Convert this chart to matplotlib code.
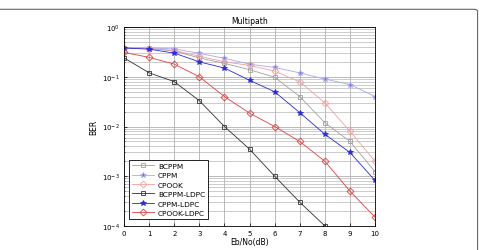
import matplotlib
matplotlib.use("Agg")
import matplotlib.pyplot as plt
from matplotlib.patches import FancyBboxPatch
from matplotlib.ticker import LogLocator, NullFormatter
import numpy as np

ebno = [0, 1, 2, 3, 4, 5, 6, 7, 8, 9, 10]

bcppm = [0.38, 0.375, 0.33, 0.24, 0.186, 0.139, 0.098, 0.04, 0.0119, 0.005, 0.00123]
cppm = [0.38, 0.38, 0.365, 0.297, 0.235, 0.18, 0.154, 0.12, 0.09, 0.07, 0.04]
cpook = [0.38, 0.37, 0.34, 0.26, 0.2, 0.17, 0.13, 0.079, 0.03, 0.008, 0.002]
bcppm_ldpc = [0.24, 0.12, 0.08, 0.033, 0.01, 0.0035, 0.001, 0.0003, 0.0001]
cppm_ldpc = [0.38, 0.36, 0.3, 0.2, 0.15, 0.085, 0.05, 0.019, 0.007, 0.003, 0.00082]
cpook_ldpc = [0.31, 0.246, 0.18, 0.1, 0.04, 0.0186, 0.01, 0.005, 0.002, 0.0005, 0.00015]

series = [
    ("BCPPM", bcppm, "#a0a0a0", "s", "none"),
    ("CPPM", cppm, "#a8a8f0", "*", "#6a6af0"),
    ("CPOOK", cpook, "#f0a0a0", "D", "none"),
    ("BCPPM-LDPC", bcppm_ldpc, "#303030", "s", "none"),
    ("CPPM-LDPC", cppm_ldpc, "#2a2ae0", "*", "#2a2ae0"),
    ("CPOOK-LDPC", cpook_ldpc, "#e04040", "D", "none"),
]

fig = plt.figure(figsize=(4.79, 2.51), dpi=100)
# outer frame of the source page: only top and right edges visible
frame = FancyBboxPatch((-0.05, -0.1), 1.047, 1.059, boxstyle="round,pad=0,rounding_size=0.008",
                       transform=fig.transFigure, fill=False, edgecolor="#666666", lw=0.8)
fig.patches.append(frame)

ax = fig.add_axes([0.259, 0.096, 0.524, 0.792])
for name, vals, color, marker, face in series:
    ms = 3.8 if marker == "*" else 3.5
    ax.semilogy(ebno[:len(vals)], vals, color=color, lw=0.6, marker=marker,
                markersize=ms, markerfacecolor=face, markeredgecolor=color,
                markeredgewidth=0.6, label=name)

ax.set_xlim(0, 10)
ax.set_ylim(1e-4, 1)
ax.set_xticks(range(11))
ax.yaxis.set_major_locator(LogLocator(base=10, numticks=10))
ax.yaxis.set_minor_locator(LogLocator(base=10, subs=np.arange(2, 10), numticks=10))
ax.yaxis.set_minor_formatter(NullFormatter())
ax.grid(True, which="major", color="#b0b0b0", lw=0.6)
ax.grid(True, which="minor", axis="y", color="#b8b8b8", lw=0.5)
ax.tick_params(labelsize=5, length=2, width=0.5, direction="in", pad=3)
ax.tick_params(which="minor", length=1, width=0.4, direction="in")
for s in ax.spines.values():
    s.set_linewidth(0.6)
ax.set_xlabel("Eb/No(dB)", fontsize=5.5, labelpad=1)
ax.set_ylabel("BER", fontsize=5.5, labelpad=3)
ax.set_title("Multipath", fontsize=5.5, pad=3)

leg = ax.legend(loc="lower left", bbox_to_anchor=(0.02, 0.035), fontsize=5.3,
                fancybox=False, edgecolor="black", framealpha=1,
                handlelength=3, borderpad=0.4, labelspacing=0.45, handletextpad=0.5,
                borderaxespad=0)
leg.get_frame().set_linewidth(0.6)

fig.savefig("out.png", dpi=100)
